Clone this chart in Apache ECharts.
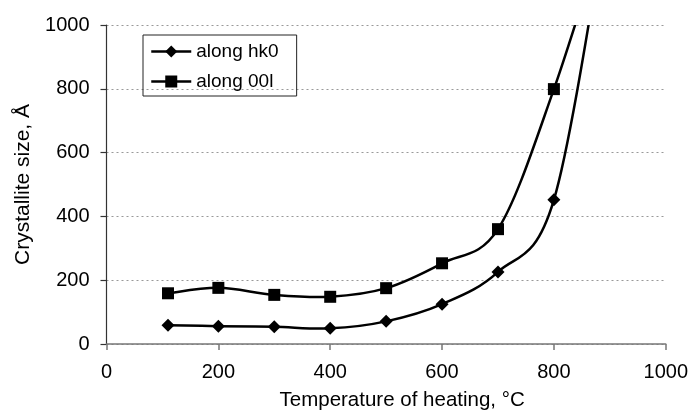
<!DOCTYPE html>
<html>
<head>
<meta charset="utf-8">
<script src="https://cdn.jsdelivr.net/npm/echarts@6/dist/echarts.min.js"></script>
<style>html,body{margin:0;padding:0;background:#fff}#c{width:691px;height:416px}</style>
</head>
<body>
<div id="c"></div>
<script>
// Temperature of heating (°C)
var temps = [110, 200, 300, 400, 500, 600, 700, 800, 900];
// Crystallite size along hk0 (Å); last value lies above the axis range (curve exits the top)
var hk0 = [59, 56, 54, 49, 71, 125, 226, 452, 1400];
// Crystallite size along 00l (Å)
var l00 = [159, 176, 154, 148, 175, 253, 360, 799, 1350];
var seriesNames = ['along hk0', 'along 00l'];
var xTicks = [0, 200, 400, 600, 800, 1000];
var yTicks = [0, 200, 400, 600, 800, 1000];

function pairs(xs, ys) { return xs.map(function (x, i) { return [x, ys[i]]; }); }

// Spreadsheet-style smoothed segment (Catmull-Rom, handles = (next - prev) / 6),
// positions obtained through the chart's own scales via api.coord
function smoothRender(xs, ys) {
  return function (params, api) {
    var i = params.dataIndex;
    var n = xs.length;
    if (i >= n - 1) return null;
    var p = function (k) { k = Math.max(0, Math.min(n - 1, k)); return api.coord([xs[k], ys[k]]); };
    var p0 = p(i - 1), p1 = p(i), p2 = p(i + 1), p3 = p(i + 2);
    return {
      type: 'bezierCurve',
      shape: {
        x1: p1[0], y1: p1[1], x2: p2[0], y2: p2[1],
        cpx1: p1[0] + (p2[0] - p0[0]) / 6, cpy1: p1[1] + (p2[1] - p0[1]) / 6,
        cpx2: p2[0] - (p3[0] - p1[0]) / 6, cpy2: p2[1] - (p3[1] - p1[1]) / 6
      },
      style: { stroke: '#000', lineWidth: 2.5, fill: null }
    };
  };
}

var font = 'Liberation Sans, Arial, Helvetica, sans-serif';
var chart = echarts.init(document.getElementById('c'), null, { renderer: 'canvas' });
chart.setOption({
  animation: false,
  backgroundColor: '#fff',
  grid: { left: 106.5, right: 24, top: 25, bottom: 71, containLabel: false },
  legend: {
    orient: 'vertical',
    left: 143, top: 35,
    padding: [7, 18, 5, 7],
    itemGap: 11,
    itemWidth: 40, itemHeight: 15,
    borderColor: '#222', borderWidth: 1,
    lineStyle: { color: '#000', width: 2.5, opacity: 1 },
    textStyle: { fontFamily: font, fontSize: 19, color: '#000' },
    data: seriesNames
  },
  xAxis: {
    type: 'value', min: xTicks[0], max: xTicks[xTicks.length - 1], interval: 200,
    name: 'Temperature of heating, °C', nameLocation: 'middle', nameGap: 46,
    nameTextStyle: { fontFamily: font, fontSize: 20.5, color: '#000', padding: [0, 0, 0, 32] },
    axisLine: { lineStyle: { color: '#777', width: 1.5 } },
    axisTick: { show: true, inside: false, length: 6, lineStyle: { color: '#777', width: 1.5 } },
    axisLabel: { margin: 18, fontFamily: font, fontSize: 20, color: '#000', formatter: function (v) { return String(v); } },
    splitLine: { show: false }
  },
  yAxis: {
    type: 'value', min: yTicks[0], max: yTicks[yTicks.length - 1], interval: 200,
    name: 'Crystallite size, Å', nameLocation: 'middle', nameGap: 56, nameRotate: 90,
    nameTextStyle: { fontFamily: font, fontSize: 21, color: '#000' },
    axisLine: { show: true, lineStyle: { color: '#333', width: 1.2 } },
    axisTick: { show: true, inside: false, length: 6, lineStyle: { color: '#333', width: 1.2 } },
    axisLabel: { margin: 17, fontFamily: font, fontSize: 20, color: '#000', formatter: function (v) { return String(v); } },
    splitLine: { show: true, lineStyle: { color: '#999', width: 1, type: [2, 3] } }
  },
  series: [
    {
      name: seriesNames[0] + ' curve', type: 'custom', data: pairs(temps, hk0),
      renderItem: smoothRender(temps, hk0), clip: true, z: 2, silent: true
    },
    {
      name: seriesNames[1] + ' curve', type: 'custom', data: pairs(temps, l00),
      renderItem: smoothRender(temps, l00), clip: true, z: 2, silent: true
    },
    {
      name: seriesNames[0], type: 'line', data: pairs(temps, hk0),
      clip: true, z: 3,
      symbol: 'diamond', symbolSize: 13,
      lineStyle: { color: '#000', width: 2.5, opacity: 0 },
      itemStyle: { color: '#000' }
    },
    {
      name: seriesNames[1], type: 'line', data: pairs(temps, l00),
      clip: true, z: 3,
      symbol: 'rect', symbolSize: 12,
      lineStyle: { color: '#000', width: 2.5, opacity: 0 },
      itemStyle: { color: '#000' }
    }
  ]
});
</script>
</body>
</html>
